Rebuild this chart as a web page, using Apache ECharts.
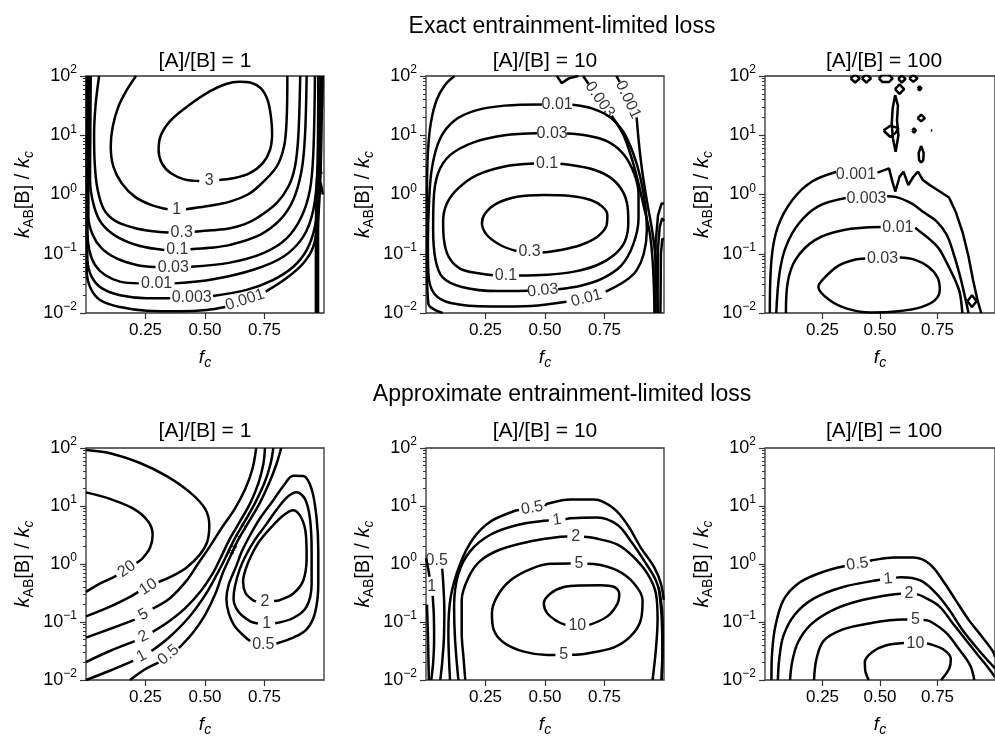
<!DOCTYPE html>
<html>
<head>
<meta charset="utf-8">
<title>Entrainment-limited loss</title>
<script src="https://cdn.jsdelivr.net/npm/echarts@6/dist/echarts.min.js"></script>
<style>
  html, body { margin: 0; padding: 0; background: #fff; }
  #chart { width: 995px; height: 738px; }
</style>
</head>
<body>
<div id="chart"></div>
<script>
const FONT = "'Liberation Sans', Arial, Helvetica, sans-serif";

const ROW_TITLES = ['Exact entrainment-limited loss', 'Approximate entrainment-limited loss'];
const PANEL_TITLES = ['[A]/[B] = 1', '[A]/[B] = 10', '[A]/[B] = 100'];
const X_TICKS = [0.25, 0.5, 0.75];
const Y_MINOR_TICKS = [
  0.02, 0.03, 0.04, 0.05, 0.06, 0.07, 0.08, 0.09,
  0.2, 0.3, 0.4, 0.5, 0.6, 0.7, 0.8, 0.9,
  2, 3, 4, 5, 6, 7, 8, 9,
  20, 30, 40, 50, 60, 70, 80, 90
];

// contour points are [f_c, log10(k_AB[B] / k_c)], null leaves the gap for the inline label
// labels are [f_c, log10(k), text, rotation]

// ---- Exact, [A]/[B] = 1
const ex1_3 = [[0.56,0.245],[0.616,0.273],[0.686,0.357],[0.742,0.526],[0.773,0.751],[0.782,1.032],[0.777,1.314],[0.763,1.595],[0.735,1.792],[0.693,1.887],[0.644,1.904],[0.588,1.865],[0.518,1.736],[0.434,1.511],[0.357,1.257],[0.315,1.004],[0.305,0.751],[0.319,0.526],[0.357,0.357],[0.413,0.256],[0.476,0.228]];
const ex1_1 = [[0.21,2.0],[0.171,1.76],[0.136,1.48],[0.112,1.14],[0.104,0.81],[0.115,0.47],[0.15,0.19],[0.206,-0.04],[0.276,-0.18],[0.343,-0.25], null,
  [0.42,-0.25],[0.505,-0.2],[0.605,-0.12],[0.68,0.0],[0.731,0.16],[0.801,0.47],[0.832,0.81],[0.843,1.26],[0.846,2.0]];
const ex1_03 = [[0.055,2.0],[0.04,1.5],[0.034,1.0],[0.037,0.5],[0.048,0.1],[0.075,-0.25],[0.125,-0.45],[0.2,-0.56],[0.28,-0.62],[0.347,-0.64], null,
  [0.457,-0.627],[0.53,-0.605],[0.605,-0.57],[0.667,-0.5],[0.717,-0.4],[0.8,-0.149],[0.85,0.13],[0.878,0.47],[0.892,0.98],[0.9,2.0]];
const ex1_01 = [[0.02,2.0],[0.018,1.0],[0.017,0.24],[0.034,-0.2],[0.066,-0.49],[0.129,-0.71],[0.227,-0.87],[0.329,-0.935], null,
  [0.439,-0.925],[0.52,-0.9],[0.605,-0.85],[0.731,-0.68],[0.815,-0.43],[0.871,-0.09],[0.906,0.41],[0.92,0.98],[0.927,2.0]];
const ex1_003 = [[0.012,2.0],[0.01,0.5],[0.01,-0.37],[0.028,-0.68],[0.066,-0.91],[0.129,-1.08],[0.213,-1.19],[0.292,-1.225], null,
  [0.442,-1.22],[0.605,-1.15],[0.745,-0.99],[0.843,-0.74],[0.906,-0.37],[0.941,0.08],[0.955,0.69],[0.962,2.0]];
const ex1_001 = [[0.007,2.0],[0.006,0.0],[0.006,-0.6],[0.014,-0.94],[0.038,-1.19],[0.08,-1.36],[0.143,-1.47],[0.222,-1.5], null,
  [0.372,-1.5],[0.535,-1.43],[0.703,-1.27],[0.829,-1.05],[0.913,-0.71],[0.955,-0.26],[0.972,0.41],[0.976,2.0]];
const ex1_0003 = [[0.005,2.0],[0.004,-0.5],[0.006,-1.1],[0.024,-1.39],[0.066,-1.58],[0.143,-1.7],[0.255,-1.75],[0.354,-1.752], null,
  [0.534,-1.712],[0.675,-1.61],[0.787,-1.44],[0.871,-1.22],[0.927,-0.94],[0.962,-0.54],[0.975,0.0],[0.982,1.0],[0.985,2.0]];
const ex1_0001 = [[0.003,2.0],[0.003,-1.27],[0.017,-1.56],[0.059,-1.78],[0.143,-1.9],[0.255,-1.96],[0.395,-1.97],[0.507,-1.95],[0.585,-1.9], null,
  [0.755,-1.64],[0.843,-1.41],[0.913,-1.16],[0.955,-0.88],[0.975,-0.4],[0.985,0.3],[0.99,1.2],[0.993,2.0]];
const ex1_edge1 = [[0.966,-2.0],[0.966,-1.0],[0.967,-0.2],[0.97,0.25],[0.978,0.5],[0.99,0.35]];
const ex1_edge2 = [[0.975,-2.0],[0.975,-0.6],[0.978,0.0],[0.986,0.2],[0.995,0.0]];
const ex1_edge3 = [[0.994,2.0],[0.992,1.5],[0.986,1.2]];
const ex1Labels = [
  [0.518,0.228,'3',0],[0.381,-0.262,'1',0],[0.402,-0.644,'0.3',0],[0.384,-0.937,'0.1',0],
  [0.367,-1.229,'0.03',0],[0.297,-1.499,'0.01',0],[0.444,-1.741,'0.003',0],[0.668,-1.78,'0.001',18]
];

// ---- Exact, [A]/[B] = 10
const ex2_03 = [[0.49,-0.98],[0.565,-0.937],[0.65,-0.852],[0.72,-0.712],[0.759,-0.515],[0.762,-0.346],[0.741,-0.205],[0.692,-0.093],[0.608,-0.025],[0.495,-0.008],[0.383,-0.037],[0.298,-0.149],[0.249,-0.318],[0.235,-0.487],[0.256,-0.684],[0.312,-0.852],[0.38,-0.954]];
const ex2_01 = [[0.565,0.52],[0.685,0.442],[0.769,0.301],[0.823,0.076],[0.847,-0.205],[0.85,-0.487],[0.835,-0.796],[0.79,-1.02],[0.72,-1.19],[0.622,-1.302],[0.509,-1.355],[0.391,-1.368], null,
  [0.281,-1.362],[0.221,-1.33],[0.143,-1.25],[0.095,-1.05],[0.075,-0.75],[0.072,-0.45],[0.088,-0.15],[0.135,0.104],[0.214,0.329],[0.326,0.47],[0.454,0.522]];
const ex2_003 = [[0.592,1.03],[0.67,1.0],[0.76,0.9],[0.83,0.68],[0.875,0.35],[0.893,0.0],[0.893,-0.4],[0.87,-0.85],[0.82,-1.2],[0.74,-1.42],[0.65,-1.54],[0.555,-1.6], null,
  [0.428,-1.625],[0.3,-1.63],[0.15,-1.56],[0.07,-1.4],[0.04,-1.1],[0.03,-0.6],[0.032,-0.1],[0.05,0.35],[0.1,0.66],[0.2,0.88],[0.33,1.0],[0.468,1.035]];
const ex2_001 = [[0.615,1.515],[0.7,1.45],[0.775,1.3],[0.83,1.05],[0.87,0.7],[0.9,0.3],[0.922,-0.2],[0.928,-0.6],[0.915,-1.0],[0.885,-1.28],[0.84,-1.45],[0.755,-1.64], null,
  [0.59,-1.81],[0.442,-1.88],[0.273,-1.89],[0.104,-1.83],[0.034,-1.67],[0.01,-1.33],[0.008,-0.8],[0.012,-0.2],[0.025,0.45],[0.06,0.95],[0.12,1.25],[0.21,1.42],[0.33,1.5],[0.487,1.52]];
const ex2_0003 = [[0.07,-2.0],[0.03,-1.93],[0.01,-1.85],[0.004,-1.2],[0.004,0.0],[0.008,0.7],[0.02,1.2],[0.045,1.6],[0.08,1.85],[0.12,2.0], null,
  [0.66,2.0],[0.683,1.87], null,
  [0.78,1.33],[0.83,1.0],[0.865,0.6],[0.892,0.2],[0.915,-0.2],[0.938,-0.6],[0.95,-1.0],[0.957,-1.5],[0.96,-2.0]];
const ex2_0001 = [[0.8,2.0],[0.814,1.9], null,
  [0.885,1.3],[0.895,0.85],[0.91,0.35],[0.93,-0.15],[0.952,-0.65],[0.967,-1.2],[0.974,-2.0]];
const ex2_notch = [[0.55,2.0],[0.57,1.88],[0.6,1.96],[0.64,2.0]];
const ex2_edge1 = [[0.962,-2.0],[0.965,-0.8],[0.975,-0.35],[0.99,-0.15],[1.0,-0.15]];
const ex2_edge2 = [[0.972,-2.0],[0.975,-0.9],[0.982,-0.55],[0.992,-0.4],[1.0,-0.45]];
const ex2_edge3 = [[0.985,-2.0],[0.987,-1.0],[0.993,-0.75],[1.0,-0.75]];
const ex2Labels = [
  [0.509,0.526,'0.1',0],[0.336,-1.365,'0.1',0],[0.435,-0.97,'0.3',0],[0.53,1.032,'0.03',0],
  [0.491,-1.62,'0.03',6],[0.551,1.52,'0.01',0],[0.674,-1.752,'0.01',15],[0.73,1.6,'0.003',-55],[0.849,1.6,'0.001',-65]
];

// ---- Exact, [A]/[B] = 100
const ex3_003 = [[0.586,-1.065],[0.65,-1.1],[0.71,-1.22],[0.75,-1.4],[0.76,-1.6],[0.74,-1.78],[0.68,-1.9],[0.58,-1.97],[0.46,-1.99],[0.36,-1.93],[0.28,-1.78],[0.232,-1.56],[0.26,-1.4],[0.32,-1.2],[0.39,-1.1],[0.436,-1.08]];
const ex3_001 = [[0.091,-2.0],[0.098,-1.5],[0.133,-1.1],[0.217,-0.77],[0.343,-0.6],[0.503,-0.55], null,
  [0.653,-0.56],[0.672,-0.62],[0.72,-0.77],[0.756,-0.91],[0.791,-1.16],[0.826,-1.44],[0.847,-1.66],[0.858,-2.0]];
const ex3_0003 = [[0.049,-2.0],[0.063,-1.33],[0.091,-0.88],[0.147,-0.49],[0.231,-0.2],[0.351,-0.06], null,
  [0.531,-0.03],[0.567,-0.04],[0.637,-0.15],[0.69,-0.3],[0.745,-0.45],[0.79,-0.68],[0.82,-1.0],[0.845,-1.33],[0.865,-1.65],[0.885,-2.0]];
const ex3_0001a = [[0.021,-2.0],[0.028,-1.106],[0.056,-0.543],[0.119,-0.093],[0.203,0.216],[0.309,0.38]];
const ex3_0001b = [[0.489,0.37],[0.539,0.44],[0.555,0.2],[0.567,0.05],[0.585,0.3],[0.602,0.385],[0.623,0.16],[0.645,0.3],[0.665,0.385],[0.686,0.245],[0.72,0.15],[0.75,0.076],[0.8,-0.05],[0.83,-0.3],[0.86,-0.65],[0.885,-1.05],[0.905,-1.45],[0.925,-1.8],[0.94,-2.0]];
const ex3_n1 = [[0.372,1.96],[0.392,2.03],[0.412,1.96],[0.392,1.89],[0.372,1.96]];
const ex3_n2 = [[0.421,1.96],[0.441,2.03],[0.461,1.96],[0.441,1.89],[0.421,1.96]];
const ex3_n3 = [[0.495,1.96],[0.51,2.02],[0.54,2.02],[0.555,1.96],[0.54,1.9],[0.51,1.9],[0.495,1.96]];
const ex3_n4 = [[0.579,1.95],[0.595,2.01],[0.611,1.95],[0.595,1.89],[0.579,1.95]];
const ex3_n5 = [[0.627,1.96],[0.645,2.02],[0.663,1.96],[0.645,1.9],[0.627,1.96]];
const ex3_n6 = [[0.565,1.78],[0.585,1.86],[0.605,1.78],[0.585,1.7],[0.565,1.78]];
const ex3_n7 = [[0.566,1.68],[0.578,1.5],[0.574,1.25],[0.58,1.0],[0.568,0.72],[0.556,0.95],[0.551,1.2],[0.555,1.45],[0.566,1.68]];
const ex3_n8 = [[0.515,1.08],[0.545,1.16],[0.58,1.12],[0.568,1.04],[0.545,0.97],[0.515,1.08]];
const ex3_n9 = [[0.664,1.79],[0.672,1.825],[0.68,1.79],[0.672,1.755],[0.664,1.79]];
const ex3_n10 = [[0.663,1.29],[0.679,1.345],[0.695,1.29],[0.679,1.235],[0.663,1.29]];
const ex3_n11 = [[0.64,1.08],[0.648,1.115],[0.656,1.08],[0.648,1.045],[0.64,1.08]];
const ex3_n12 = [[0.721,1.08],[0.724,1.092],[0.727,1.08],[0.724,1.068],[0.721,1.08]];
const ex3_n13 = [[0.679,0.82],[0.69,0.7],[0.688,0.58],[0.679,0.54],[0.67,0.58],[0.668,0.7],[0.679,0.82]];
const ex3_n14 = [[0.88,-1.8],[0.9,-1.7],[0.92,-1.8],[0.9,-1.9],[0.88,-1.8]];
const ex3Labels = [
  [0.395,0.33,'0.001',0],[0.441,-0.076,'0.003',0],[0.578,-0.56,'0.01',0],[0.511,-1.077,'0.03',0]
];

// ---- Approximate, [A]/[B] = 1
const ap1_20 = [[0.0,1.235],[0.101,1.122],[0.199,0.954],[0.262,0.729],[0.28,0.504],[0.269,0.279],[0.236,0.09],[0.212,0.02], null,
  [0.128,-0.2],[0.101,-0.256],[0.045,-0.368],[0.0,-0.481]];
const ap1_10 = [[0.0,1.966],[0.101,1.91],[0.227,1.741],[0.339,1.516],[0.437,1.235],[0.5,0.954],[0.518,0.672],[0.51,0.391],[0.479,0.166],[0.423,-0.059],[0.353,-0.228],[0.305,-0.31], null,
  [0.22,-0.48],[0.185,-0.565],[0.101,-0.734],[0.0,-0.903]];
const ap1_5 = [[0.0,-1.27],[0.1,-1.12],[0.205,-0.96], null,
  [0.28,-0.77],[0.35,-0.6],[0.42,-0.3],[0.47,0.0],[0.52,0.3],[0.57,0.62],[0.625,0.95],[0.67,1.3],[0.7,1.65],[0.715,2.0]];
const ap1_2 = [[0.0,-1.69],[0.1,-1.5],[0.205,-1.33], null,
  [0.28,-1.17],[0.345,-1.0],[0.415,-0.77],[0.48,-0.48],[0.53,-0.18],[0.565,0.1],[0.6,0.4],[0.645,0.72],[0.69,1.05],[0.725,1.4],[0.745,1.72],[0.752,2.0]];
const ap1_1 = [[0.0,-2.0],[0.1,-1.84],[0.198,-1.67], null,
  [0.275,-1.5],[0.345,-1.28],[0.43,-0.93],[0.5,-0.54],[0.55,-0.18],[0.585,0.1],[0.62,0.4],[0.665,0.72],[0.71,1.05],[0.75,1.4],[0.775,1.72],[0.787,2.0]];
const ap1_05 = [[0.185,-2.0],[0.25,-1.81],[0.305,-1.7], null,
  [0.39,-1.45],[0.45,-1.18],[0.5,-0.88],[0.545,-0.5],[0.575,-0.15],[0.603,0.1],[0.637,0.4],[0.683,0.72],[0.73,1.05],[0.77,1.4],[0.8,1.72],[0.82,2.0]];
const ap1_r05 = [[0.8,-1.37],[0.871,-1.268],[0.927,-1.128],[0.962,-0.847],[0.976,-0.34],[0.976,0.222],[0.969,0.785],[0.948,1.291],[0.913,1.516],[0.871,1.52],[0.83,1.35],[0.78,1.06],[0.73,0.78],[0.69,0.5],[0.655,0.22],[0.63,-0.05],[0.6,-0.35],[0.59,-0.6],[0.6,-0.85],[0.63,-1.1],[0.69,-1.33]];
const ap1_r1 = [[0.795,-1.02],[0.871,-0.931],[0.927,-0.734],[0.948,-0.34],[0.948,0.222],[0.941,0.785],[0.92,1.122],[0.885,1.235],[0.845,1.15],[0.8,0.93],[0.755,0.67],[0.71,0.42],[0.672,0.15],[0.645,-0.1],[0.625,-0.4],[0.62,-0.6],[0.64,-0.82],[0.69,-0.99],[0.722,-1.025]];
const ap1_r2 = [[0.79,-0.64],[0.815,-0.622],[0.871,-0.509],[0.913,-0.284],[0.927,0.11],[0.924,0.504],[0.906,0.785],[0.871,0.926],[0.83,0.84],[0.78,0.64],[0.73,0.4],[0.695,0.15],[0.67,-0.1],[0.66,-0.3],[0.67,-0.5],[0.7,-0.62],[0.715,-0.645]];
const ap1Labels = [
  [0.171,-0.087,'20',35],[0.262,-0.397,'10',33],[0.241,-0.875,'5',30],[0.241,-1.252,'2',28],
  [0.234,-1.589,'1',28],[0.346,-1.567,'0.5',40],[0.752,-0.65,'2',0],[0.759,-1.027,'1',0],[0.745,-1.381,'0.5',0]
];
const ap1SmallLabels = [[0.619,0.25,'0.5',62],[0.641,0.47,'1',62],[0.664,0.66,'2',62]];

// ---- Approximate, [A]/[B] = 10
const ap2_10 = [[0.686,-1.05],[0.762,-0.903],[0.805,-0.678],[0.812,-0.509],[0.791,-0.397],[0.734,-0.368],[0.65,-0.37],[0.579,-0.397],[0.523,-0.509],[0.495,-0.678],[0.509,-0.847],[0.551,-0.987],[0.586,-1.05]];
const ap2_5 = [[0.678,0.005],[0.706,0.0],[0.805,-0.115],[0.875,-0.34],[0.91,-0.622],[0.903,-0.959],[0.861,-1.241],[0.79,-1.437],[0.664,-1.55],[0.614,-1.565], null,
  [0.544,-1.567],[0.509,-1.567],[0.411,-1.511],[0.326,-1.353],[0.284,-1.128],[0.277,-0.847],[0.298,-0.565],[0.354,-0.284],[0.439,-0.087],[0.523,0.003],[0.608,0.009]];
const ap2_2 = [[0.594,0.475],[0.565,0.47],[0.439,0.391],[0.312,0.25],[0.228,0.053],[0.179,-0.228],[0.15,-0.622],[0.15,-1.184],[0.158,-1.634],[0.165,-2.0], null,
  [0.664,0.47],[0.706,0.447],[0.805,0.335],[0.875,0.11],[0.931,-0.172],[0.966,-0.509],[0.973,-0.959],[0.966,-1.466],[0.952,-2.0]];
const ap2_1 = [[0.516,0.75],[0.495,0.745],[0.383,0.672],[0.27,0.504],[0.186,0.222],[0.136,-0.172],[0.118,-0.734],[0.122,-1.297],[0.136,-2.0], null,
  [0.586,0.77],[0.608,0.79],[0.72,0.8],[0.805,0.672],[0.861,0.391],[0.917,0.053],[0.966,-0.284],[0.987,-0.622],[0.995,-1.2],[0.99,-2.0]];
const ap2_05 = [[0.391,0.93],[0.368,0.91],[0.27,0.729],[0.2,0.447],[0.143,-0.003],[0.104,-0.565],[0.094,-1.184],[0.101,-2.0], null,
  [0.501,1.0],[0.509,1.038],[0.608,1.111],[0.706,1.111],[0.79,0.954],[0.847,0.672],[0.903,0.278],[0.959,-0.059],[0.987,-0.34],[0.999,-0.62]];
const ap2_s05 = [[0.068,-0.08],[0.072,-0.3],[0.077,-0.8],[0.075,-1.3],[0.068,-1.7],[0.06,-2.0]];
const ap2_s1 = [[0.0,0.1],[0.01,-0.1],[0.015,-0.22], null,
  [0.028,-0.55],[0.033,-0.9],[0.034,-1.3],[0.03,-1.7],[0.022,-2.0]];
const ap2_s2 = [[0.004,-0.7],[0.008,-1.2],[0.01,-1.6],[0.012,-2.0]];
const ap2_edge = [[0.978,-0.4],[0.99,-0.9],[0.993,-1.5],[0.99,-2.0]];
const ap2Labels = [
  [0.636,-1.06,'10',0],[0.643,0.009,'5',0],[0.579,-1.567,'5',0],[0.629,0.475,'2',0],
  [0.551,0.757,'1',8],[0.446,0.965,'0.5',10],[0.045,0.065,'0.5',0],[0.024,-0.385,'1',0]
];

// ---- Approximate, [A]/[B] = 100
const ap3_05 = [[0.347,-0.04],[0.339,-0.042],[0.227,-0.172],[0.143,-0.34],[0.08,-0.622],[0.045,-1.072],[0.031,-1.522],[0.028,-2.0], null,
  [0.457,0.05],[0.465,0.065],[0.563,0.11],[0.647,0.11],[0.717,-0.003],[0.773,-0.284],[0.829,-0.622],[0.885,-0.959],[0.941,-1.241],[0.99,-1.5],[1.0,-1.6]];
const ap3_1 = [[0.5,-0.27],[0.479,-0.284],[0.339,-0.397],[0.213,-0.594],[0.129,-0.875],[0.08,-1.24],[0.062,-1.634],[0.056,-2.0], null,
  [0.57,-0.235],[0.591,-0.228],[0.675,-0.284],[0.745,-0.509],[0.801,-0.79],[0.857,-1.128],[0.913,-1.409],[0.962,-1.634],[1.0,-1.8]];
const ap3_2 = [[0.591,-0.515],[0.563,-0.52],[0.423,-0.622],[0.297,-0.79],[0.199,-1.044],[0.143,-1.353],[0.118,-1.691],[0.109,-2.0], null,
  [0.661,-0.52],[0.689,-0.565],[0.759,-0.734],[0.815,-1.016],[0.871,-1.297],[0.927,-1.578],[0.962,-1.747],[1.0,-1.95]];
const ap3_5 = [[0.619,-0.959],[0.598,-0.959],[0.465,-1.016],[0.339,-1.128],[0.255,-1.325],[0.224,-1.634],[0.213,-2.0], null,
  [0.689,-0.965],[0.717,-0.987],[0.787,-1.184],[0.843,-1.466],[0.892,-1.747],[0.91,-2.0]];
const ap3_10 = [[0.604,-1.364],[0.521,-1.409],[0.465,-1.522],[0.434,-1.691],[0.437,-1.86],[0.451,-2.0], null,
  [0.704,-1.37],[0.717,-1.381],[0.773,-1.466],[0.808,-1.634],[0.801,-1.803],[0.766,-2.0]];
const ap3Labels = [
  [0.402,-0.003,'0.5',8],[0.535,-0.256,'1',5],[0.626,-0.509,'2',0],[0.654,-0.959,'5',0],[0.654,-1.364,'10',0]
];

const PANELS = [
  { smooth: [ex1_3, ex1_1, ex1_03, ex1_01, ex1_003, ex1_001, ex1_0003, ex1_0001],
    sharp: [ex1_edge1, ex1_edge2, ex1_edge3], labels: ex1Labels },
  { smooth: [ex2_03, ex2_01, ex2_003, ex2_001, ex2_0003, ex2_0001],
    sharp: [ex2_notch, ex2_edge1, ex2_edge2, ex2_edge3], labels: ex2Labels },
  { smooth: [ex3_003, ex3_001, ex3_0003, ex3_0001a],
    sharp: [ex3_0001b, ex3_n1, ex3_n2, ex3_n3, ex3_n4, ex3_n5, ex3_n6, ex3_n7, ex3_n8, ex3_n9, ex3_n10, ex3_n11, ex3_n12, ex3_n13, ex3_n14],
    labels: ex3Labels },
  { smooth: [ap1_20, ap1_10, ap1_5, ap1_2, ap1_1, ap1_05, ap1_r05, ap1_r1, ap1_r2],
    sharp: [], labels: ap1Labels, small: ap1SmallLabels },
  { smooth: [ap2_10, ap2_5, ap2_2, ap2_1, ap2_05, ap2_s05, ap2_s1, ap2_s2, ap2_edge],
    sharp: [], labels: ap2Labels },
  { smooth: [ap3_05, ap3_1, ap3_2, ap3_5, ap3_10], sharp: [], labels: ap3Labels }
];

const GRID_LEFT = [86, 426, 765];
const GRID_TOP = [76, 448];
const GRID_W = 238;
const GRID_H = 237;
const AXIS_COLOR = '#333';

function segments(line) {
  const out = [];
  let cur = [];
  line.forEach(p => {
    if (p === null) {
      if (cur.length) out.push(cur);
      cur = [];
    } else {
      cur.push([p[0], Math.pow(10, p[1])]);
    }
  });
  if (cur.length) out.push(cur);
  return out;
}

function expLabel(v) {
  const e = Math.round(Math.log10(v));
  return '10{s|' + (e < 0 ? '\u2212' + (-e) : e) + '}';
}

const grids = [];
const xAxes = [];
const yAxes = [];
const series = [];
const graphics = [];

ROW_TITLES.forEach((t, r) => {
  graphics.push({
    type: 'text', x: 562, y: r === 0 ? 27 : 395,
    style: { text: t, fontSize: 23, fontFamily: FONT, fill: '#000', align: 'center', verticalAlign: 'middle' }
  });
});

PANELS.forEach((panel, i) => {
  const row = Math.floor(i / 3);
  const col = i % 3;
  grids.push({
    left: GRID_LEFT[col], top: GRID_TOP[row], width: GRID_W, height: GRID_H,
    show: true, borderColor: AXIS_COLOR, borderWidth: 1.3, backgroundColor: 'transparent'
  });
  graphics.push({
    type: 'text', x: GRID_LEFT[col] + GRID_W / 2, y: row === 0 ? 61 : 431,
    style: { text: PANEL_TITLES[col], fontSize: 21, fontFamily: FONT, fill: '#000', align: 'center', verticalAlign: 'middle' }
  });

  xAxes.push({
    type: 'value', gridIndex: i, min: 0, max: 1,
    axisLine: { show: false },
    splitLine: { show: false },
    axisTick: { show: true, customValues: X_TICKS, length: 6, lineStyle: { color: AXIS_COLOR, width: 1.2 } },
    axisLabel: { customValues: X_TICKS, formatter: v => v.toFixed(2), fontSize: 17, color: '#000', margin: 9, fontFamily: FONT },
    name: '{i|f}{s|c}',
    nameLocation: 'middle',
    nameGap: 33,
    nameTextStyle: {
      color: '#000',
      rich: {
        i: { fontStyle: 'italic', fontSize: 19, lineHeight: 24, fontFamily: FONT },
        s: { fontStyle: 'italic', fontSize: 14, lineHeight: 14, verticalAlign: 'bottom', fontFamily: FONT }
      }
    }
  });

  yAxes.push({
    type: 'log', logBase: 10, gridIndex: i, min: 0.01, max: 100, position: 'left',
    axisLine: { show: false },
    splitLine: { show: false },
    axisTick: { show: true, length: 6, lineStyle: { color: AXIS_COLOR, width: 1.2 } },
    axisLabel: {
      formatter: expLabel, margin: 9, color: '#000',
      rich: {
        s: { fontSize: 12, lineHeight: 12, verticalAlign: 'top', fontFamily: FONT, color: '#000' }
      },
      fontSize: 18, lineHeight: 24, fontFamily: FONT
    },
    name: '{i|k}{s|AB}{n|[B] / }{i|k}{si|c}',
    nameLocation: 'middle',
    nameRotate: 90,
    nameGap: 50,
    nameTextStyle: {
      color: '#000',
      rich: {
        i: { fontStyle: 'italic', fontSize: 20, lineHeight: 26, fontFamily: FONT },
        n: { fontSize: 20, lineHeight: 26, fontFamily: FONT },
        s: { fontSize: 14, lineHeight: 14, verticalAlign: 'bottom', fontFamily: FONT },
        si: { fontStyle: 'italic', fontSize: 14, lineHeight: 14, verticalAlign: 'bottom', fontFamily: FONT }
      }
    }
  });
  // second log axis on the same side, only for the minor ticks
  yAxes.push({
    type: 'log', logBase: 10, gridIndex: i, min: 0.01, max: 100, position: 'left', offset: 0,
    axisLine: { show: false },
    splitLine: { show: false },
    axisLabel: { show: false },
    axisTick: { show: true, customValues: Y_MINOR_TICKS, length: 3, lineStyle: { color: AXIS_COLOR, width: 1 } }
  });

  const addLines = (lines, smooth) => {
    lines.forEach(line => {
      segments(line).forEach(seg => {
        series.push({
          type: 'line', xAxisIndex: i, yAxisIndex: 2 * i,
          data: seg, symbol: 'none', smooth: smooth ? 0.35 : false,
          lineStyle: { color: '#000', width: 2.5 },
          silent: true, animation: false, z: 2
        });
      });
    });
  };
  addLines(panel.smooth, true);
  addLines(panel.sharp, false);

  const labelItems = panel.labels.map(l => ({
    value: [l[0], Math.pow(10, l[1])], name: l[2], label: { rotate: l[3] }
  }));
  (panel.small || []).forEach(l => {
    labelItems.push({ value: [l[0], Math.pow(10, l[1])], name: l[2], label: { rotate: l[3], fontSize: 8, fontWeight: 'bold' } });
  });
  series.push({
    type: 'scatter', xAxisIndex: i, yAxisIndex: 2 * i,
    symbolSize: 0, data: labelItems,
    label: {
      show: true, position: 'inside', formatter: '{b}', color: '#000',
      textBorderWidth: 0, fontSize: 16, fontFamily: FONT
    },
    silent: true, animation: false, z: 5
  });
});

const chart = echarts.init(document.getElementById('chart'), null, { renderer: 'canvas' });
chart.setOption({
  backgroundColor: '#fff',
  animation: false,
  grid: grids,
  xAxis: xAxes,
  yAxis: yAxes,
  series: series,
  graphic: graphics
});
</script>
</body>
</html>
